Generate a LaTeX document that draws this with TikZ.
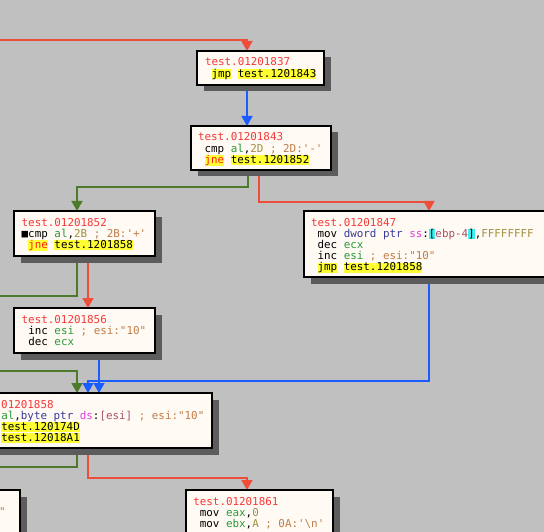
\documentclass[tikz,border=0pt]{standalone}
\usepackage{fontspec}
\setmonofont{DejaVu Sans Mono}
\usetikzlibrary{arrows.meta,shadows}
\pgfdeclarelayer{background}
\pgfsetlayers{background,main}
\definecolor{bgc}{HTML}{C0C0C0}
\definecolor{boxc}{HTML}{FFFAF3}
\definecolor{shadowc}{HTML}{5C5C5C}
\definecolor{lblc}{HTML}{F5383A}
\definecolor{regc}{HTML}{2A9A3A}
\definecolor{immc}{HTML}{A09040}
\definecolor{cmtc}{HTML}{C07C48}
\definecolor{ptrc}{HTML}{3A3A9A}
\definecolor{segc}{HTML}{E040E0}
\definecolor{memc}{HTML}{A8506A}
\definecolor{jredc}{HTML}{FF2020}
\definecolor{hlyc}{HTML}{FFFF33}
\definecolor{hlcc}{HTML}{40F0F0}
\definecolor{redl}{HTML}{EE4D3A}
\definecolor{bluel}{HTML}{1A5CFF}
\definecolor{greenl}{HTML}{4B7B2B}
\newcommand\hly[1]{{\setlength{\fboxsep}{0pt}\colorbox{hlyc}{\rule[-1.8pt]{0pt}{10pt}#1}}}
\newcommand\hlc[1]{{\setlength{\fboxsep}{0pt}\colorbox{hlcc}{\rule[-1.8pt]{0pt}{10pt}#1}}}
\newcommand\xlbl[1]{\textcolor{lblc}{#1}}
\newcommand\xreg[1]{\textcolor{regc}{#1}}
\newcommand\ximm[1]{\textcolor{immc}{#1}}
\newcommand\xcmt[1]{\textcolor{cmtc}{#1}}
\newcommand\xptr[1]{\textcolor{ptrc}{#1}}
\newcommand\xseg[1]{\textcolor{segc}{#1}}
\newcommand\xmem[1]{\textcolor{memc}{#1}}
\newcommand\xjr[1]{\textcolor{jredc}{#1}}
\tikzset{
  cbox/.style={rectangle, draw=black, line width=2pt, fill=boxc, inner sep=0pt, outer sep=0pt,
    general shadow={fill=shadowc, shadow xshift=6.5pt, shadow yshift=-6.5pt}},
  txt/.style={anchor=base west, inner sep=0pt, outer sep=0pt,
    font=\ttfamily\fontsize{10.88pt}{11.2pt}\selectfont},
  conn/.style={line width=1.5pt, -{Triangle[width=11pt,length=10pt]}},
  connfree/.style={line width=1.5pt},
}
\begin{document}
\begin{tikzpicture}[x=1pt,y=-1pt]
\useasboundingbox (0,0) rectangle (544,532);
% boxes
\node[cbox, minimum width=127pt, minimum height=34pt] (B1) at (260.5,68) {};
\node[cbox, minimum width=140pt, minimum height=44pt] (B2) at (261,148) {};
\node[cbox, minimum width=141pt, minimum height=45pt] (B3) at (84.5,233.5) {};
\node[cbox, minimum width=244pt, minimum height=66pt] (B4) at (426,244) {};
\node[cbox, minimum width=141pt, minimum height=45pt] (B5) at (84.5,330.5) {};
\node[cbox, minimum width=251pt, minimum height=55pt] (B6) at (86.5,420.5) {};
\node[cbox, minimum width=147pt, minimum height=70pt] (B7) at (259.5,525) {};
\node[cbox, minimum width=80pt, minimum height=70pt] (B8) at (-20,525) {};
% texts B1
\node[txt] (b1a) at ([shift={(8pt,-15pt)}]B1.north west) {\xlbl{test.01201837}};
\node[txt] (b1b) at ([shift={(14.55pt,-26.2pt)}]B1.north west) {\hly{jmp} \hly{test.1201843}};
% B2
\node[txt] (b2a) at ([shift={(7pt,-15pt)}]B2.north west) {\xlbl{test.01201843}};
\node[txt] (b2b) at ([shift={(13.55pt,-26.2pt)}]B2.north west) {cmp \xreg{al},\ximm{2D} \xcmt{; 2D:'-'}};
\node[txt] (b2c) at ([shift={(13.55pt,-37.4pt)}]B2.north west) {\hly{\xjr{jne}} \hly{test.1201852}};
% B3
\node[txt] (b3a) at ([shift={(7.7pt,-15pt)}]B3.north west) {\xlbl{test.01201852}};
\node[txt] (b3b) at ([shift={(7.7pt,-26.2pt)}]B3.north west) {■cmp \xreg{al},\ximm{2B} \xcmt{; 2B:'+'}};
\node[txt] (b3c) at ([shift={(14.25pt,-37.4pt)}]B3.north west) {\hly{\xjr{jne}} \hly{test.1201858}};
% B4
\node[txt] (b4a) at ([shift={(7pt,-15pt)}]B4.north west) {\xlbl{test.01201847}};
\node[txt] (b4b) at ([shift={(13.55pt,-26.2pt)}]B4.north west) {mov \xptr{dword ptr} \xseg{ss}:\hlc{[}\xmem{ebp-4}\hlc{]},\ximm{FFFFFFFF}};
\node[txt] (b4c) at ([shift={(13.55pt,-37.4pt)}]B4.north west) {dec \xreg{ecx}};
\node[txt] (b4d) at ([shift={(13.55pt,-48.6pt)}]B4.north west) {inc \xreg{esi} \xcmt{; esi:"10"}};
\node[txt] (b4e) at ([shift={(13.55pt,-59.8pt)}]B4.north west) {\hly{jmp} \hly{test.1201858}};
% B5
\node[txt] (b5a) at ([shift={(7.7pt,-15pt)}]B5.north west) {\xlbl{test.01201856}};
\node[txt] (b5b) at ([shift={(14.25pt,-26.2pt)}]B5.north west) {inc \xreg{esi} \xcmt{; esi:"10"}};
\node[txt] (b5c) at ([shift={(14.25pt,-37.4pt)}]B5.north west) {dec \xreg{ecx}};
% B6
\node[txt] (b6a) at ([shift={(7.5pt,-15pt)}]B6.north west) {\xlbl{test.01201858}};
\node[txt] (b6b) at ([shift={(14.05pt,-26.2pt)}]B6.north west) {cmp \xreg{al},\xptr{byte ptr} \xseg{ds}:\xmem{[esi]} \xcmt{; esi:"10"}};
\node[txt] (b6c) at ([shift={(14.05pt,-37.4pt)}]B6.north west) {\hly{\xjr{jne}} \hly{test.120174D}};
\node[txt] (b6d) at ([shift={(14.05pt,-48.6pt)}]B6.north west) {\hly{jmp} \hly{test.12018A1}};
% B7
\node[txt] (b7a) at ([shift={(7.3pt,-15pt)}]B7.north west) {\xlbl{test.01201861}};
\node[txt] (b7b) at ([shift={(13.85pt,-26.2pt)}]B7.north west) {mov \xreg{eax},\ximm{0}};
\node[txt] (b7c) at ([shift={(13.85pt,-37.4pt)}]B7.north west) {mov \xreg{ebx},\ximm{A} \xcmt{; 0A:'\textbackslash n'}};
% B8
\node[txt] (b8b) at ([shift={(-20.8pt,-25pt)}]B8.north east) {\xcmt{"}};
% free ends
\coordinate (c1s) at (-10,40);
\coordinate (c5e) at (-10,296);
\coordinate (c7s) at (-10,371);
\coordinate (c10e) at (-10,467);
\begin{pgfonlayer}{background}
\fill[bgc] (-20,-20) rectangle (564,552);
\draw[conn, redl] (c1s) -| ([xshift=50pt]B1.north west);
\draw[conn, bluel] ([xshift=50pt]B1.south west) -- ([xshift=56pt]B2.north west);
\draw[conn, greenl] ([xshift=57pt]B2.south west) -- ++(0,17) -| ([xshift=63pt]B3.north west);
\draw[conn, redl] ([xshift=68pt]B2.south west) -- ++(0,32) -| ([xshift=125pt]B4.north west);
\draw[connfree, greenl] ([xshift=63pt]B3.south west) |- (c5e);
\draw[conn, redl] ([xshift=74pt]B3.south west) -- ([xshift=74pt]B5.north west);
\draw[conn, greenl] (c7s) -| ([xshift=116pt]B6.north west);
\draw[conn, bluel] ([xshift=125pt]B4.south west) -- ++(0,104) -| ([xshift=127pt]B6.north west);
\draw[conn, bluel] ([xshift=85pt]B5.south west) -- ([xshift=138pt]B6.north west);
\draw[connfree, greenl] ([xshift=116pt]B6.south west) |- (c10e);
\draw[conn, redl] ([xshift=127pt]B6.south west) -- ++(0,30) -| ([xshift=61pt]B7.north west);
\end{pgfonlayer}
\end{tikzpicture}
\end{document}
